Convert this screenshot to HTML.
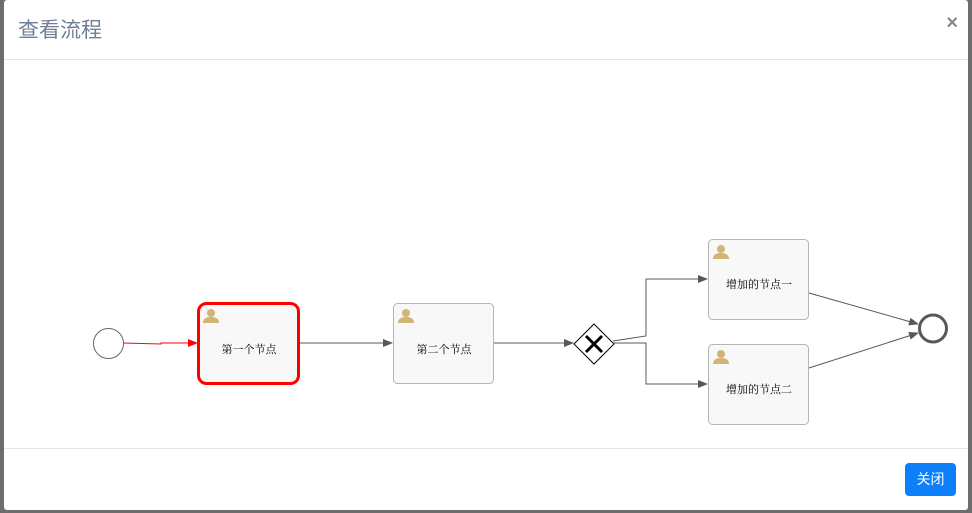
<!DOCTYPE html>
<html><head><meta charset="utf-8"><style>
body{margin:0;width:972px;height:513px;background:#6d6d6d;overflow:hidden;font-family:"Liberation Sans","Noto Sans CJK SC",sans-serif;position:relative}
.m{position:absolute;left:4px;top:0;width:964px;height:510px;background:#fff;border-radius:3px}
.t{position:absolute;left:14px;top:14px;font-size:21px;color:#6f7f95}
.x{position:absolute;right:10px;top:12px;font-size:20px;font-weight:bold;color:#888}
.h1{position:absolute;left:0;top:59px;width:100%;height:1px;background:#e5e5e5}
.h2{position:absolute;left:0;top:448px;width:100%;height:1px;background:#e5e5e5}
.b{position:absolute;left:901px;top:463px;width:51px;height:33px;background:#0d7ff9;border-radius:4px;color:#fff;font-size:14px;text-align:center;line-height:33px}
</style></head><body>
<div class="m">
<div class="t">查看流程</div><div class="x">×</div>
<div class="h1"></div><div class="h2"></div>
<div class="b">关闭</div>
</div>
<svg width="972" height="513" style="position:absolute;left:0;top:0" font-family="Liberation Serif,Noto Serif CJK SC,serif">
<defs>
<marker id="a" markerWidth="10" markerHeight="8" refX="9" refY="4" orient="auto" markerUnits="userSpaceOnUse"><path d="M0,0L10,4L0,8z" fill="#585858"/></marker>
<marker id="r" markerWidth="10" markerHeight="8" refX="9" refY="4" orient="auto" markerUnits="userSpaceOnUse"><path d="M0,0L10,4L0,8z" fill="#f00"/></marker>
<g id="p"><circle cx="8" cy="5" r="4" fill="#d1b575"/><path d="M0,15Q0,9 8,9Q16,9 16,15z" fill="#d1b575"/></g>
</defs>
<circle cx="108.5" cy="343.5" r="15" fill="#fff" stroke="#666"/>
<path d="M124,343L161,344L161,343L197,343" stroke="#f00" fill="none" marker-end="url(#r)"/>
<rect x="198.5" y="303.5" width="100" height="80" rx="8" fill="#f8f8f8" stroke="#f00" stroke-width="3"/>
<use href="#p" x="203" y="308"/>
<text x="249" y="353" font-size="11" text-anchor="middle">第一个节点</text>
<path d="M300,343L392,343" stroke="#585858" marker-end="url(#a)"/>
<rect x="393.5" y="303.5" width="100" height="80" rx="4" fill="#f8f8f8" stroke="#b5b5b5"/>
<use href="#p" x="398" y="308"/>
<text x="444" y="353" font-size="11" text-anchor="middle">第二个节点</text>
<path d="M494,343L573,343" stroke="#585858" marker-end="url(#a)"/>
<path d="M594,324L614,344L594,364L574,344z" fill="#fff" stroke="#000"/>
<path d="M586,336L602,352M602,336L586,352" stroke="#000" stroke-width="3"/>
<path d="M613,341L646,336L646,279L707,279" stroke="#585858" fill="none" marker-end="url(#a)"/>
<path d="M613,343L646,343L646,384L707,384" stroke="#585858" fill="none" marker-end="url(#a)"/>
<rect x="708.5" y="239.5" width="100" height="80" rx="4" fill="#f8f8f8" stroke="#b5b5b5"/>
<use href="#p" x="713" y="244"/>
<text x="759" y="288" font-size="11" text-anchor="middle">增加的节点一</text>
<rect x="708.5" y="344.5" width="100" height="80" rx="4" fill="#f8f8f8" stroke="#b5b5b5"/>
<use href="#p" x="713" y="349"/>
<text x="759" y="393" font-size="11" text-anchor="middle">增加的节点二</text>
<path d="M809,293L918,324" stroke="#585858" marker-end="url(#a)"/>
<path d="M809,368L918,333" stroke="#585858" marker-end="url(#a)"/>
<circle cx="933" cy="328.5" r="13.5" fill="#fff" stroke="#585858" stroke-width="3"/>
</svg>
</body></html>
